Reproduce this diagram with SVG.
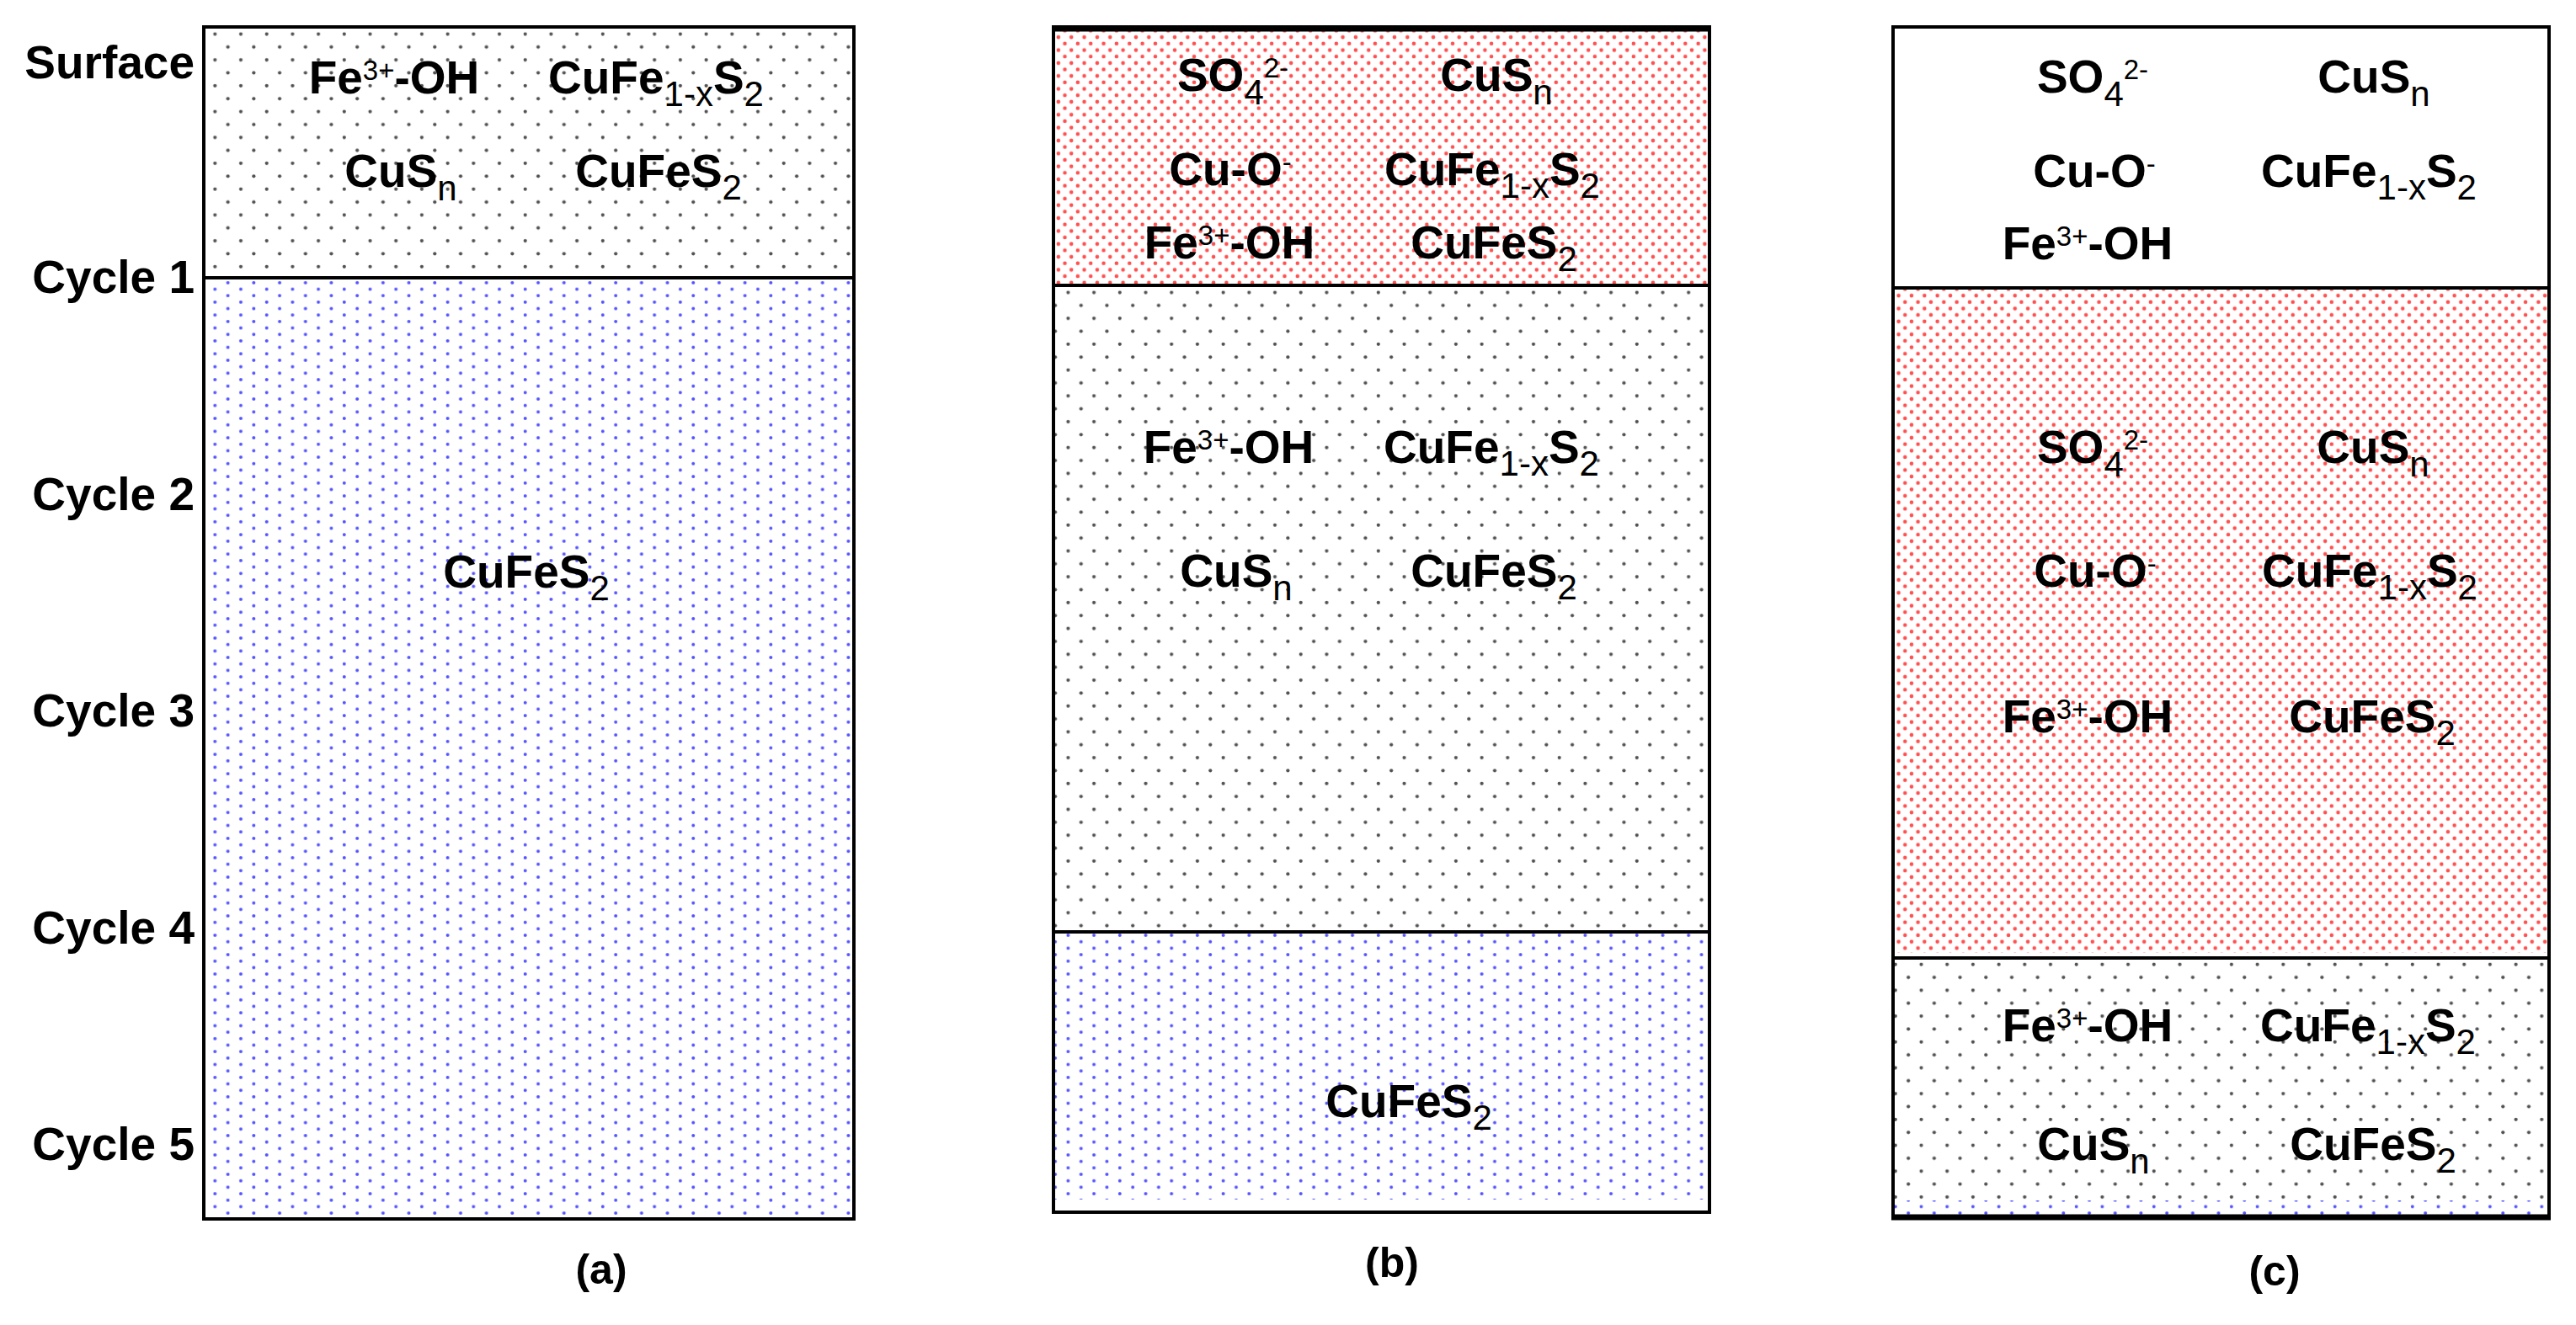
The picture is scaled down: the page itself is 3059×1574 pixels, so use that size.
<svg xmlns="http://www.w3.org/2000/svg" width="3059" height="1574" viewBox="0 0 3059 1574">
<style>
.t{font-family:"Liberation Sans",Arial,sans-serif;font-weight:bold;font-size:55px;fill:#000;text-anchor:middle}
.lbl{font-family:"Liberation Sans",Arial,sans-serif;font-weight:bold;font-size:55px;fill:#000;text-anchor:end}
.cap{font-family:"Liberation Sans",Arial,sans-serif;font-weight:bold;font-size:50px;fill:#000;text-anchor:middle}
.sub{font-weight:normal;font-size:42px}
.sup{font-weight:normal;font-size:33px}
.frame{fill:none;stroke:#000;stroke-width:4}
.div{stroke:#000;stroke-width:4}
</style>
<defs>
<pattern id="pGrey" width="30.7" height="30.7" patternUnits="userSpaceOnUse" x="2" y="2">
<circle cx="7.7" cy="7.7" r="2.1" fill="#505050"/><circle cx="23.05" cy="23.05" r="2.1" fill="#505050"/>
</pattern>
<pattern id="pBlue" width="30.7" height="15.35" patternUnits="userSpaceOnUse" x="2" y="2">
<circle cx="7.7" cy="3.8" r="2.0" fill="#5252ff"/><circle cx="23.05" cy="11.5" r="2.0" fill="#5252ff"/>
</pattern>
<pattern id="pRed" width="15.35" height="15.35" patternUnits="userSpaceOnUse" x="2" y="2">
<circle cx="3.8" cy="3.8" r="2.3" fill="#ff5050"/><circle cx="11.5" cy="11.5" r="2.3" fill="#ff5050"/>
</pattern>
</defs>
<rect width="3059" height="1574" fill="#fff"/>

<g id="axis-labels">
<text class="lbl" x="231" y="93">Surface</text>
<text class="lbl" x="231" y="348">Cycle 1</text>
<text class="lbl" x="231" y="606">Cycle 2</text>
<text class="lbl" x="231" y="863">Cycle 3</text>
<text class="lbl" x="231" y="1121">Cycle 4</text>
<text class="lbl" x="231" y="1378">Cycle 5</text>
</g>

<g id="panel-a">
<g id="a-layer1">
<rect x="242" y="32" width="772" height="298" fill="url(#pGrey)"/>
<text class="t" x="468" y="111">Fe<tspan class="sup" dy="-16">3+</tspan><tspan dy="16">-OH</tspan></text>
<text class="t" x="779" y="111">CuFe<tspan class="sub" dy="15">1-x</tspan><tspan dy="-15">S</tspan><tspan class="sub" dy="15">2</tspan></text>
<text class="t" x="476" y="222">CuS<tspan class="sub" dy="16">n</tspan></text>
<text class="t" x="782" y="222">CuFeS<tspan class="sub" dy="15">2</tspan></text>
</g>
<g id="a-layer2">
<rect x="242" y="330" width="772" height="1118" fill="url(#pBlue)"/>
<text class="t" x="625" y="698">CuFeS<tspan class="sub" dy="15">2</tspan></text>
</g>
<line class="div" x1="242" y1="330" x2="1014" y2="330"/>
<rect class="frame" x="242" y="32" width="772" height="1416"/>
<text class="cap" x="714" y="1525">(a)</text>
</g>

<g id="panel-b">
<g id="b-layer1">
<rect x="1251" y="34" width="779" height="305" fill="url(#pRed)"/>
<text class="t" x="1464" y="108">SO<tspan class="sub" dy="16">4</tspan><tspan class="sup" dy="-32">2-</tspan></text>
<text class="t" x="1777" y="108">CuS<tspan class="sub" dy="16">n</tspan></text>
<text class="t" x="1461" y="220">Cu-O<tspan class="sup" dy="-16">-</tspan></text>
<text class="t" x="1772" y="220">CuFe<tspan class="sub" dy="15">1-x</tspan><tspan dy="-15">S</tspan><tspan class="sub" dy="15">2</tspan></text>
<text class="t" x="1460" y="307">Fe<tspan class="sup" dy="-16">3+</tspan><tspan dy="16">-OH</tspan></text>
<text class="t" x="1774" y="307">CuFeS<tspan class="sub" dy="15">2</tspan></text>
</g>
<g id="b-layer2">
<rect x="1251" y="339" width="779" height="768" fill="url(#pGrey)"/>
<text class="t" x="1459" y="550">Fe<tspan class="sup" dy="-16">3+</tspan><tspan dy="16">-OH</tspan></text>
<text class="t" x="1771" y="550">CuFe<tspan class="sub" dy="15">1-x</tspan><tspan dy="-15">S</tspan><tspan class="sub" dy="15">2</tspan></text>
<text class="t" x="1468" y="697">CuS<tspan class="sub" dy="16">n</tspan></text>
<text class="t" x="1774" y="697">CuFeS<tspan class="sub" dy="15">2</tspan></text>
</g>
<g id="b-layer3">
<rect x="1251" y="1107" width="779" height="318" fill="url(#pBlue)"/>
<text class="t" x="1673" y="1327">CuFeS<tspan class="sub" dy="15">2</tspan></text>
</g>
<line class="div" x1="1251" y1="339" x2="2030" y2="339"/>
<line class="div" x1="1251" y1="1107" x2="2030" y2="1107"/>
<rect class="frame" x="1251" y="32" width="779" height="1408"/>
<line x1="1249" y1="34" x2="2032" y2="34" stroke="#000" stroke-width="7"/>
<text class="cap" x="1653" y="1517">(b)</text>
</g>

<g id="panel-c">
<g id="c-layer1">
<rect x="2248" y="32" width="779" height="310" fill="#fff"/>
<text class="t" x="2485" y="110">SO<tspan class="sub" dy="16">4</tspan><tspan class="sup" dy="-32">2-</tspan></text>
<text class="t" x="2819" y="110">CuS<tspan class="sub" dy="16">n</tspan></text>
<text class="t" x="2487" y="222">Cu-O<tspan class="sup" dy="-16">-</tspan></text>
<text class="t" x="2813" y="222">CuFe<tspan class="sub" dy="15">1-x</tspan><tspan dy="-15">S</tspan><tspan class="sub" dy="15">2</tspan></text>
<text class="t" x="2479" y="308">Fe<tspan class="sup" dy="-16">3+</tspan><tspan dy="16">-OH</tspan></text>
</g>
<g id="c-layer2">
<rect x="2248" y="342" width="779" height="790" fill="url(#pRed)"/>
<text class="t" x="2485" y="550">SO<tspan class="sub" dy="16">4</tspan><tspan class="sup" dy="-32">2-</tspan></text>
<text class="t" x="2818" y="550">CuS<tspan class="sub" dy="16">n</tspan></text>
<text class="t" x="2488" y="697">Cu-O<tspan class="sup" dy="-16">-</tspan></text>
<text class="t" x="2814" y="697">CuFe<tspan class="sub" dy="15">1-x</tspan><tspan dy="-15">S</tspan><tspan class="sub" dy="15">2</tspan></text>
<text class="t" x="2479" y="870">Fe<tspan class="sup" dy="-16">3+</tspan><tspan dy="16">-OH</tspan></text>
<text class="t" x="2817" y="870">CuFeS<tspan class="sub" dy="15">2</tspan></text>
</g>
<g id="c-layer3">
<rect x="2248" y="1138" width="779" height="288" fill="url(#pGrey)"/>
<text class="t" x="2479" y="1237">Fe<tspan class="sup" dy="-16">3+</tspan><tspan dy="16">-OH</tspan></text>
<text class="t" x="2812" y="1237">CuFe<tspan class="sub" dy="15">1-x</tspan><tspan dy="-15">S</tspan><tspan class="sub" dy="15">2</tspan></text>
<text class="t" x="2486" y="1378">CuS<tspan class="sub" dy="16">n</tspan></text>
<text class="t" x="2818" y="1378">CuFeS<tspan class="sub" dy="15">2</tspan></text>
</g>
<g id="c-layer4">
<rect x="2248" y="1426" width="779" height="18" fill="url(#pBlue)"/>
</g>
<line class="div" x1="2248" y1="342" x2="3027" y2="342"/>
<line class="div" x1="2248" y1="1138" x2="3027" y2="1138"/>
<rect class="frame" x="2248" y="32" width="779" height="1414"/>
<line x1="2246" y1="1446" x2="3029" y2="1446" stroke="#000" stroke-width="7"/>
<text class="cap" x="2701" y="1527">(c)</text>
</g>
</svg>
